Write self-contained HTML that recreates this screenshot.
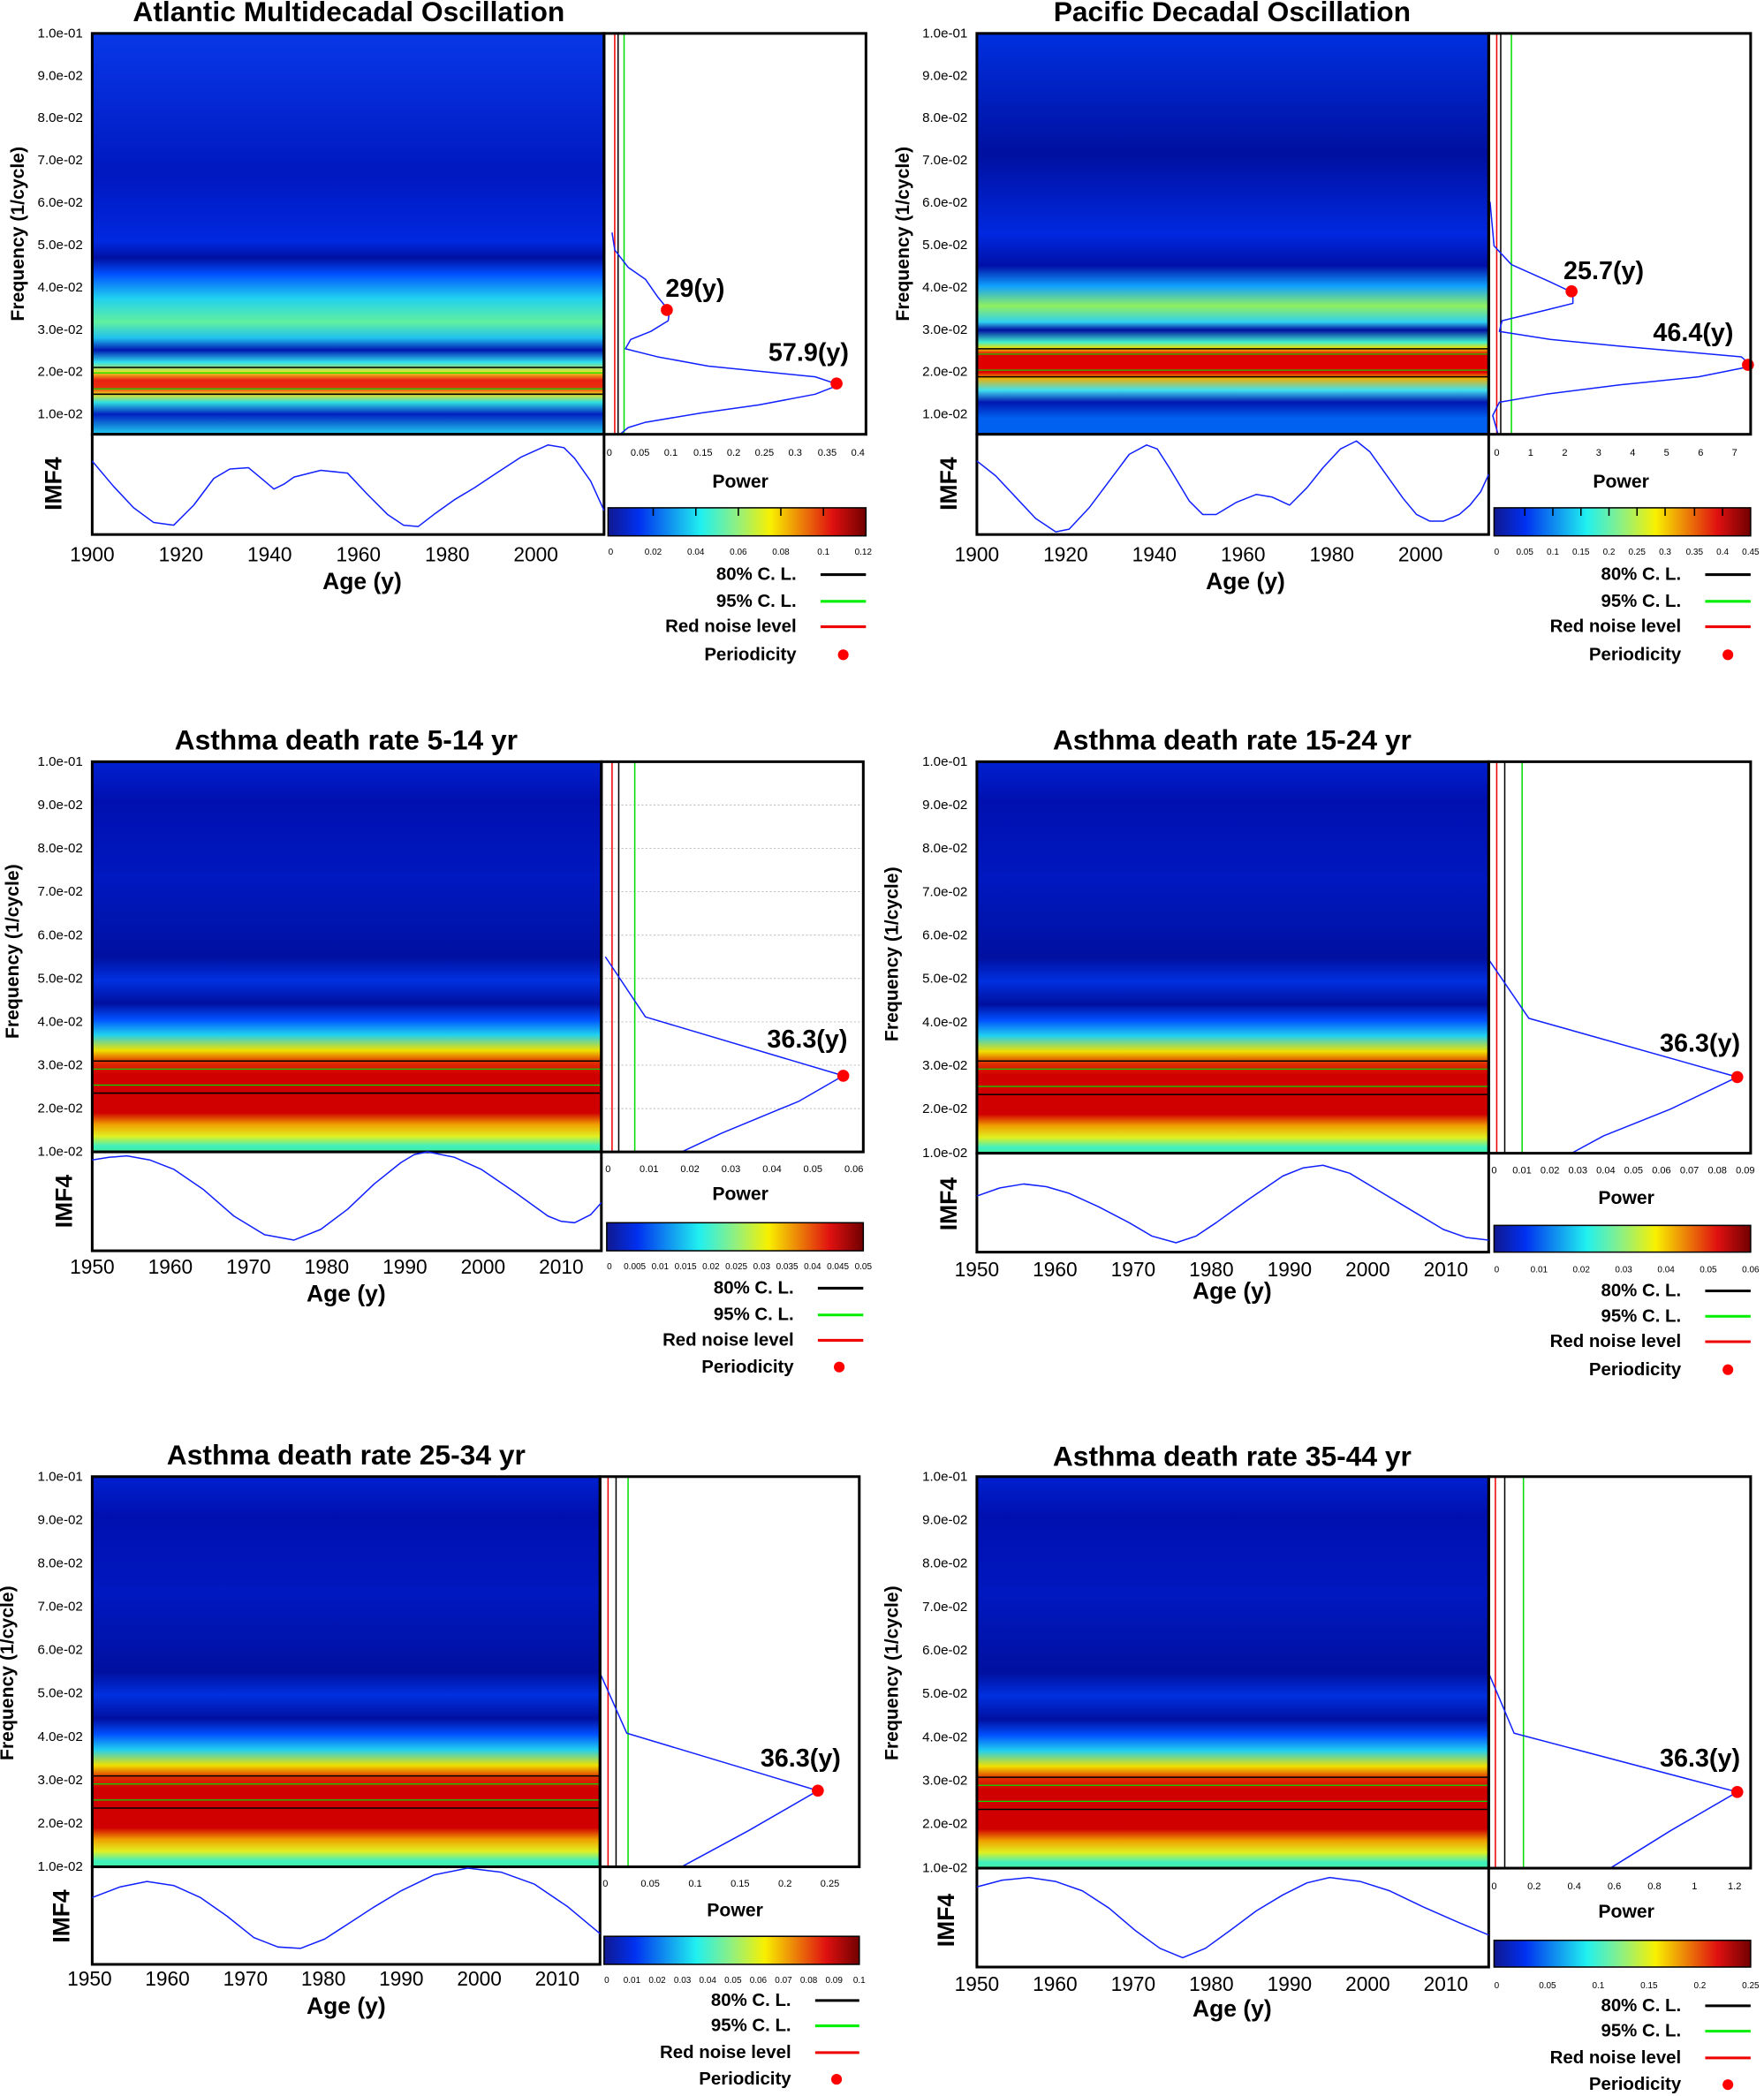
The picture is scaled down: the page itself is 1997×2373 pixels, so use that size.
<!DOCTYPE html>
<html><head><meta charset="utf-8"><style>html,body{margin:0;padding:0;background:#fff}svg{display:block}text{font-family:"Liberation Sans",Arial,sans-serif}
text[font-size="18"]{font-size:21px}
g[font-size="8"] text{font-size:10px}
text[font-size="11"]{font-size:14px}
g[font-size="11"] text{font-size:13.5px}
g[font-size="13"] text{font-size:15px}
text[font-size="15"]{font-size:17.5px}
text[font-size="16"]{font-size:19px}
g[font-size="6.5"] text{font-size:7.3px}
g[font-size="6"] text, g[font-size="5.8"] text{font-size:6.6px}
polyline{stroke-linejoin:round}
</style></head><body>
<svg width="1997" height="2373" viewBox="0 0 1320 1568.5" preserveAspectRatio="none" xmlns="http://www.w3.org/2000/svg">
<defs>
<linearGradient id="g1" x1="0" y1="0" x2="0" y2="1">
<stop offset="0" stop-color="#0838e8"/><stop offset="0.35" stop-color="#0018c0"/><stop offset="0.52" stop-color="#0028e0"/><stop offset="0.56" stop-color="#0010a0"/><stop offset="0.6" stop-color="#0050ff"/><stop offset="0.66" stop-color="#20d0f0"/><stop offset="0.72" stop-color="#60f0a0"/><stop offset="0.76" stop-color="#20c0f0"/><stop offset="0.79" stop-color="#0018b0"/><stop offset="0.82" stop-color="#30e0f0"/><stop offset="0.845" stop-color="#f0e020"/><stop offset="0.865" stop-color="#e82010"/><stop offset="0.885" stop-color="#e83010"/><stop offset="0.9" stop-color="#f0e020"/><stop offset="0.92" stop-color="#30e0e0"/><stop offset="0.95" stop-color="#0020c0"/><stop offset="1" stop-color="#20d0f0"/>
</linearGradient>
<linearGradient id="g2" x1="0" y1="0" x2="0" y2="1">
<stop offset="0" stop-color="#0030e0"/><stop offset="0.3" stop-color="#0010a0"/><stop offset="0.5" stop-color="#0028e0"/><stop offset="0.58" stop-color="#0010a8"/><stop offset="0.63" stop-color="#10a0ff"/><stop offset="0.68" stop-color="#90f060"/><stop offset="0.72" stop-color="#30d0f0"/><stop offset="0.74" stop-color="#0010a0"/><stop offset="0.77" stop-color="#40f0d0"/><stop offset="0.785" stop-color="#f0e000"/><stop offset="0.8" stop-color="#e00000"/><stop offset="0.845" stop-color="#e00000"/><stop offset="0.86" stop-color="#f0b000"/><stop offset="0.89" stop-color="#40e0f0"/><stop offset="0.92" stop-color="#0018b0"/><stop offset="0.96" stop-color="#0060f0"/><stop offset="1" stop-color="#0060f0"/>
</linearGradient>
<linearGradient id="g3" x1="0" y1="0" x2="0" y2="1">
<stop offset="0" stop-color="#0020d0"/><stop offset="0.1" stop-color="#0010b0"/><stop offset="0.3" stop-color="#0018c0"/><stop offset="0.5" stop-color="#0010a0"/><stop offset="0.56" stop-color="#0030e0"/><stop offset="0.62" stop-color="#0010a0"/><stop offset="0.66" stop-color="#0050ff"/><stop offset="0.7" stop-color="#20d0f0"/><stop offset="0.74" stop-color="#f0e000"/><stop offset="0.77" stop-color="#e03000"/><stop offset="0.8" stop-color="#d00000"/><stop offset="0.9" stop-color="#d00000"/><stop offset="0.93" stop-color="#f0a000"/><stop offset="0.96" stop-color="#e0f020"/><stop offset="0.985" stop-color="#40f0c0"/><stop offset="1" stop-color="#40f0a0"/>
</linearGradient>
<linearGradient id="jet" x1="0" y1="0" x2="1" y2="0">
<stop offset="0" stop-color="#101890"/><stop offset="0.12" stop-color="#0030f0"/><stop offset="0.36" stop-color="#20f0f0"/><stop offset="0.5" stop-color="#90f080"/><stop offset="0.63" stop-color="#f8f000"/><stop offset="0.87" stop-color="#e01010"/><stop offset="1" stop-color="#700000"/>
</linearGradient>
</defs>

<!-- ===== Panel 1 AMO ===== -->
<g>
<rect x="69" y="25" width="383" height="300" fill="url(#g1)"/>
<line x1="69" y1="275" x2="452" y2="275" stroke="#000" stroke-width="1"/><line x1="69" y1="295" x2="452" y2="295" stroke="#000" stroke-width="1"/>
<line x1="69" y1="279" x2="452" y2="279" stroke="#00e000" stroke-width="0.8"/><line x1="69" y1="291" x2="452" y2="291" stroke="#00e000" stroke-width="0.8"/>
<rect x="452" y="25" width="196" height="300" fill="#fff"/>
<line x1="460" y1="25" x2="460" y2="325" stroke="#e00" stroke-width="1"/><line x1="462.5" y1="25" x2="462.5" y2="325" stroke="#000" stroke-width="1"/><line x1="467" y1="25" x2="467" y2="325" stroke="#0d0" stroke-width="1"/>
<polyline fill="none" stroke="#1020ff" stroke-width="1" points="458,174 460,187 470,200 483,209 492,222 501,233 500,240 487,248 472,254 468,261 492,267 530,274 610,282 628,288 610,295 568,303 525,309 483,316 470,320 464,325"/>
<circle cx="499" cy="232" r="4.5" fill="#f00"/><circle cx="626" cy="287" r="4.5" fill="#f00"/>
<text x="498" y="222" font-size="16" font-weight="bold">29(y)</text><text x="575" y="270" font-size="16" font-weight="bold">57.9(y)</text>
<rect x="69" y="25" width="383" height="300" fill="none" stroke="#000" stroke-width="2"/>
<rect x="452" y="25" width="196" height="300" fill="none" stroke="#000" stroke-width="2"/>
<rect x="69" y="325" width="383" height="75" fill="#fff" stroke="#000" stroke-width="2"/>
<polyline fill="none" stroke="#1020ff" stroke-width="1" points="69,345 85,364 100,380 115,391 130,393 145,378 160,358 172,351 186,350 198,360 205,366 213,362 220,357 240,352 260,354 275,370 290,385 302,393 313,394 326,384 340,374 355,365 370,355 390,342 410,333 422,335 430,343 442,360 452,382"/>
<rect x="455" y="380" width="193" height="21" fill="url(#jet)" stroke="#000" stroke-width="1"/>
<g stroke="#000" stroke-width="1"><line x1="488.8" y1="380" x2="488.8" y2="386"/><line x1="520.7" y1="380" x2="520.7" y2="386"/><line x1="552.5" y1="380" x2="552.5" y2="386"/><line x1="584.3" y1="380" x2="584.3" y2="386"/><line x1="616.2" y1="380" x2="616.2" y2="386"/></g>
<text x="261" y="16" font-size="18" font-weight="bold" text-anchor="middle">Atlantic Multidecadal Oscillation</text>
<g font-size="8" text-anchor="end"><text x="62" y="28">1.0e-01</text><text x="62" y="59.7">9.0e-02</text><text x="62" y="91.3">8.0e-02</text><text x="62" y="123">7.0e-02</text><text x="62" y="154.7">6.0e-02</text><text x="62" y="186.3">5.0e-02</text><text x="62" y="218">4.0e-02</text><text x="62" y="249.7">3.0e-02</text><text x="62" y="281.3">2.0e-02</text><text x="62" y="313">1.0e-02</text></g>
<text transform="translate(18,175) rotate(-90)" font-size="11" font-weight="bold" text-anchor="middle">Frequency (1/cycle)</text>
<text transform="translate(46,362) rotate(-90)" font-size="15" font-weight="bold" text-anchor="middle">IMF4</text>
<g font-size="13" text-anchor="middle"><text x="69" y="420">1900</text><text x="135.4" y="420">1920</text><text x="201.8" y="420">1940</text><text x="268.2" y="420">1960</text><text x="334.6" y="420">1980</text><text x="401" y="420">2000</text></g>
<text x="271" y="441" font-size="15" font-weight="bold" text-anchor="middle">Age (y)</text>
<g font-size="6.5" text-anchor="middle"><text x="456" y="341">0</text><text x="479" y="341">0.05</text><text x="502" y="341">0.1</text><text x="526" y="341">0.15</text><text x="549" y="341">0.2</text><text x="572" y="341">0.25</text><text x="595" y="341">0.3</text><text x="619" y="341">0.35</text><text x="642" y="341">0.4</text></g>
<text x="554" y="365" font-size="11" font-weight="bold" text-anchor="middle">Power</text>
<g font-size="6" text-anchor="middle"><text x="457" y="415">0</text><text x="488.8" y="415">0.02</text><text x="520.7" y="415">0.04</text><text x="552.5" y="415">0.06</text><text x="584.3" y="415">0.08</text><text x="616.2" y="415">0.1</text><text x="646" y="415">0.12</text></g>
<g font-size="11" font-weight="bold" text-anchor="end"><text x="596" y="434">80% C. L.</text><text x="596" y="454">95% C. L.</text><text x="596" y="473">Red noise level</text><text x="596" y="494">Periodicity</text></g>
<line x1="614" y1="430" x2="648" y2="430" stroke="#000" stroke-width="2"/><line x1="614" y1="450" x2="648" y2="450" stroke="#0e0" stroke-width="2"/><line x1="614" y1="469" x2="648" y2="469" stroke="#e00" stroke-width="2"/><circle cx="631" cy="490" r="4" fill="#f00"/>
</g>

<!-- ===== Panel 2 PDO ===== -->
<g>
<rect x="731" y="25" width="383" height="300" fill="url(#g2)"/>
<line x1="731" y1="261" x2="1114" y2="261" stroke="#000" stroke-width="1"/><line x1="731" y1="282" x2="1114" y2="282" stroke="#000" stroke-width="1"/>
<line x1="731" y1="265" x2="1114" y2="265" stroke="#00e000" stroke-width="0.8"/><line x1="731" y1="277" x2="1114" y2="277" stroke="#00e000" stroke-width="0.8"/>
<rect x="1114" y="25" width="196" height="300" fill="#fff"/>
<line x1="1120" y1="25" x2="1120" y2="325" stroke="#e00" stroke-width="1"/><line x1="1123" y1="25" x2="1123" y2="325" stroke="#000" stroke-width="1"/><line x1="1131" y1="25" x2="1131" y2="325" stroke="#0d0" stroke-width="1"/>
<polyline fill="none" stroke="#1020ff" stroke-width="1" points="1115,151 1118,184 1131,198 1160,211 1177,219 1177,227 1157,232 1124,240 1122,248 1160,254 1212,259 1303,267 1311,274 1271,282 1212,288 1157,295 1122,301 1117,311 1121,325"/>
<circle cx="1176" cy="218" r="4.5" fill="#f00"/><circle cx="1308" cy="273" r="4.5" fill="#f00"/>
<text x="1170" y="209" font-size="16" font-weight="bold">25.7(y)</text><text x="1237" y="255" font-size="16" font-weight="bold">46.4(y)</text>
<rect x="731" y="25" width="383" height="300" fill="none" stroke="#000" stroke-width="2"/>
<rect x="1114" y="25" width="196" height="300" fill="none" stroke="#000" stroke-width="2"/>
<rect x="731" y="325" width="383" height="75" fill="#fff" stroke="#000" stroke-width="2"/>
<polyline fill="none" stroke="#1020ff" stroke-width="1" points="731,345 745,356 760,372 775,388 790,398 800,396 815,380 830,360 845,340 858,333 866,336 875,350 890,375 900,385 910,385 925,376 940,370 952,372 965,378 978,365 990,350 1003,336 1015,330 1025,338 1035,352 1050,373 1060,385 1070,390 1080,390 1092,385 1100,378 1108,368 1114,355"/>
<rect x="1118" y="380" width="192" height="21" fill="url(#jet)" stroke="#000" stroke-width="1"/>
<g stroke="#000" stroke-width="1"><line x1="1141" y1="380" x2="1141" y2="386"/><line x1="1162" y1="380" x2="1162" y2="386"/><line x1="1183" y1="380" x2="1183" y2="386"/><line x1="1204" y1="380" x2="1204" y2="386"/><line x1="1225" y1="380" x2="1225" y2="386"/><line x1="1246" y1="380" x2="1246" y2="386"/><line x1="1268" y1="380" x2="1268" y2="386"/><line x1="1289" y1="380" x2="1289" y2="386"/></g>
<text x="922" y="16" font-size="18" font-weight="bold" text-anchor="middle">Pacific Decadal Oscillation</text>
<g font-size="8" text-anchor="end"><text x="724" y="28">1.0e-01</text><text x="724" y="59.7">9.0e-02</text><text x="724" y="91.3">8.0e-02</text><text x="724" y="123">7.0e-02</text><text x="724" y="154.7">6.0e-02</text><text x="724" y="186.3">5.0e-02</text><text x="724" y="218">4.0e-02</text><text x="724" y="249.7">3.0e-02</text><text x="724" y="281.3">2.0e-02</text><text x="724" y="313">1.0e-02</text></g>
<text transform="translate(680,175) rotate(-90)" font-size="11" font-weight="bold" text-anchor="middle">Frequency (1/cycle)</text>
<text transform="translate(716,362) rotate(-90)" font-size="15" font-weight="bold" text-anchor="middle">IMF4</text>
<g font-size="13" text-anchor="middle"><text x="731" y="420">1900</text><text x="797.4" y="420">1920</text><text x="863.8" y="420">1940</text><text x="930.2" y="420">1960</text><text x="996.6" y="420">1980</text><text x="1063" y="420">2000</text></g>
<text x="932" y="441" font-size="15" font-weight="bold" text-anchor="middle">Age (y)</text>
<g font-size="6.5" text-anchor="middle"><text x="1120" y="341">0</text><text x="1145.4" y="341">1</text><text x="1170.9" y="341">2</text><text x="1196.3" y="341">3</text><text x="1221.7" y="341">4</text><text x="1247.1" y="341">5</text><text x="1272.6" y="341">6</text><text x="1298" y="341">7</text></g>
<text x="1213" y="365" font-size="11" font-weight="bold" text-anchor="middle">Power</text>
<g font-size="6" text-anchor="middle"><text x="1120" y="415">0</text><text x="1141" y="415">0.05</text><text x="1162" y="415">0.1</text><text x="1183" y="415">0.15</text><text x="1204" y="415">0.2</text><text x="1225" y="415">0.25</text><text x="1246" y="415">0.3</text><text x="1268" y="415">0.35</text><text x="1289" y="415">0.4</text><text x="1310" y="415">0.45</text></g>
<g font-size="11" font-weight="bold" text-anchor="end"><text x="1258" y="434">80% C. L.</text><text x="1258" y="454">95% C. L.</text><text x="1258" y="473">Red noise level</text><text x="1258" y="494">Periodicity</text></g>
<line x1="1276" y1="430" x2="1310" y2="430" stroke="#000" stroke-width="2"/><line x1="1276" y1="450" x2="1310" y2="450" stroke="#0e0" stroke-width="2"/><line x1="1276" y1="469" x2="1310" y2="469" stroke="#e00" stroke-width="2"/><circle cx="1293" cy="490" r="4" fill="#f00"/>
</g>

<!-- ===== Panel 3 Asthma 5-14 ===== -->
<g>
<rect x="69" y="570" width="381" height="292" fill="url(#g3)"/>
<line x1="69" y1="794" x2="450" y2="794" stroke="#000" stroke-width="1"/><line x1="69" y1="818" x2="450" y2="818" stroke="#000" stroke-width="1"/>
<line x1="69" y1="800" x2="450" y2="800" stroke="#00e000" stroke-width="0.8"/><line x1="69" y1="812" x2="450" y2="812" stroke="#00e000" stroke-width="0.8"/>
<rect x="450" y="570" width="196" height="292" fill="#fff"/>
<g stroke="#bbb" stroke-width="0.6" stroke-dasharray="1.5,1.5"><line x1="450" y1="602.4" x2="646" y2="602.4"/><line x1="450" y1="634.9" x2="646" y2="634.9"/><line x1="450" y1="667.3" x2="646" y2="667.3"/><line x1="450" y1="699.8" x2="646" y2="699.8"/><line x1="450" y1="732.2" x2="646" y2="732.2"/><line x1="450" y1="764.7" x2="646" y2="764.7"/><line x1="450" y1="797.1" x2="646" y2="797.1"/><line x1="450" y1="829.6" x2="646" y2="829.6"/></g>
<line x1="458" y1="570" x2="458" y2="862" stroke="#e00" stroke-width="1"/><line x1="463" y1="570" x2="463" y2="862" stroke="#000" stroke-width="1"/><line x1="475" y1="570" x2="475" y2="862" stroke="#0d0" stroke-width="1"/>
<polyline fill="none" stroke="#1020ff" stroke-width="1" points="453,716 483,761 631,805 598,824 540,848 510,862"/>
<circle cx="631" cy="805" r="4.5" fill="#f00"/>
<text x="574" y="784" font-size="16" font-weight="bold">36.3(y)</text>
<rect x="69" y="570" width="381" height="292" fill="none" stroke="#000" stroke-width="2"/>
<rect x="450" y="570" width="196" height="292" fill="none" stroke="#000" stroke-width="2"/>
<rect x="69" y="862" width="381" height="74" fill="#fff" stroke="#000" stroke-width="2"/>
<polyline fill="none" stroke="#1020ff" stroke-width="1" points="69,868 82,866 95,865 112,868 130,875 152,890 175,910 198,924 220,928 240,920 260,905 280,886 300,870 310,864 320,862 340,866 360,875 385,892 410,910 420,914 430,915 442,909 450,900"/>
<rect x="454" y="915" width="192" height="21" fill="url(#jet)" stroke="#000" stroke-width="1"/>
<text x="259" y="561" font-size="18" font-weight="bold" text-anchor="middle">Asthma death rate 5-14 yr</text>
<g font-size="8" text-anchor="end"><text x="62" y="573">1.0e-01</text><text x="62" y="605.4">9.0e-02</text><text x="62" y="637.9">8.0e-02</text><text x="62" y="670.3">7.0e-02</text><text x="62" y="702.8">6.0e-02</text><text x="62" y="735.2">5.0e-02</text><text x="62" y="767.7">4.0e-02</text><text x="62" y="800.1">3.0e-02</text><text x="62" y="832.6">2.0e-02</text><text x="62" y="865">1.0e-02</text></g>
<text transform="translate(14,712) rotate(-90)" font-size="11" font-weight="bold" text-anchor="middle">Frequency (1/cycle)</text>
<text transform="translate(54,899) rotate(-90)" font-size="15" font-weight="bold" text-anchor="middle">IMF4</text>
<g font-size="13" text-anchor="middle"><text x="69" y="953">1950</text><text x="127.5" y="953">1960</text><text x="186" y="953">1970</text><text x="244.5" y="953">1980</text><text x="303" y="953">1990</text><text x="361.5" y="953">2000</text><text x="420" y="953">2010</text></g>
<text x="259" y="974" font-size="15" font-weight="bold" text-anchor="middle">Age (y)</text>
<g font-size="6.5" text-anchor="middle"><text x="455" y="877">0</text><text x="485.7" y="877">0.01</text><text x="516.3" y="877">0.02</text><text x="547" y="877">0.03</text><text x="577.7" y="877">0.04</text><text x="608.3" y="877">0.05</text><text x="639" y="877">0.06</text></g>
<text x="554" y="898" font-size="11" font-weight="bold" text-anchor="middle">Power</text>
<g font-size="5.8" text-anchor="middle"><text x="456" y="950">0</text><text x="475" y="950">0.005</text><text x="494" y="950">0.01</text><text x="513" y="950">0.015</text><text x="532" y="950">0.02</text><text x="551" y="950">0.025</text><text x="570" y="950">0.03</text><text x="589" y="950">0.035</text><text x="608" y="950">0.04</text><text x="627" y="950">0.045</text><text x="646" y="950">0.05</text></g>
<g font-size="11" font-weight="bold" text-anchor="end"><text x="594" y="968">80% C. L.</text><text x="594" y="988">95% C. L.</text><text x="594" y="1007">Red noise level</text><text x="594" y="1027">Periodicity</text></g>
<line x1="612" y1="964" x2="646" y2="964" stroke="#000" stroke-width="2"/><line x1="612" y1="984" x2="646" y2="984" stroke="#0e0" stroke-width="2"/><line x1="612" y1="1003" x2="646" y2="1003" stroke="#e00" stroke-width="2"/><circle cx="628" cy="1023" r="4" fill="#f00"/>
</g>

<!-- ===== Panel 4 Asthma 15-24 ===== -->
<g>
<rect x="731" y="570" width="383" height="293" fill="url(#g3)"/>
<line x1="731" y1="794" x2="1114" y2="794" stroke="#000" stroke-width="1"/><line x1="731" y1="819" x2="1114" y2="819" stroke="#000" stroke-width="1"/>
<line x1="731" y1="800" x2="1114" y2="800" stroke="#00e000" stroke-width="0.8"/><line x1="731" y1="813" x2="1114" y2="813" stroke="#00e000" stroke-width="0.8"/>
<rect x="1114" y="570" width="196" height="293" fill="#fff"/>
<line x1="1120" y1="570" x2="1120" y2="863" stroke="#e00" stroke-width="1"/><line x1="1126" y1="570" x2="1126" y2="863" stroke="#000" stroke-width="1"/><line x1="1139" y1="570" x2="1139" y2="863" stroke="#0d0" stroke-width="1"/>
<polyline fill="none" stroke="#1020ff" stroke-width="1" points="1114,718 1144,762 1300,806 1250,830 1200,850 1176,863"/>
<circle cx="1300" cy="806" r="4.5" fill="#f00"/>
<text x="1242" y="787" font-size="16" font-weight="bold">36.3(y)</text>
<rect x="731" y="570" width="383" height="293" fill="none" stroke="#000" stroke-width="2"/>
<rect x="1114" y="570" width="196" height="293" fill="none" stroke="#000" stroke-width="2"/>
<rect x="731" y="863" width="383" height="74" fill="#fff" stroke="#000" stroke-width="2"/>
<polyline fill="none" stroke="#1020ff" stroke-width="1" points="731,895 748,889 766,886 783,888 800,893 822,903 845,915 862,925 880,930 895,925 910,915 935,897 960,880 975,874 990,872 1010,878 1030,890 1055,905 1080,920 1097,926 1114,928"/>
<rect x="1118" y="917" width="192" height="20" fill="url(#jet)" stroke="#000" stroke-width="1"/>
<text x="922" y="561" font-size="18" font-weight="bold" text-anchor="middle">Asthma death rate 15-24 yr</text>
<g font-size="8" text-anchor="end"><text x="724" y="573">1.0e-01</text><text x="724" y="605.5">9.0e-02</text><text x="724" y="638">8.0e-02</text><text x="724" y="670.5">7.0e-02</text><text x="724" y="703">6.0e-02</text><text x="724" y="735.5">5.0e-02</text><text x="724" y="768">4.0e-02</text><text x="724" y="800.5">3.0e-02</text><text x="724" y="833">2.0e-02</text><text x="724" y="866">1.0e-02</text></g>
<text transform="translate(672,714) rotate(-90)" font-size="11" font-weight="bold" text-anchor="middle">Frequency (1/cycle)</text>
<text transform="translate(716,901) rotate(-90)" font-size="15" font-weight="bold" text-anchor="middle">IMF4</text>
<g font-size="13" text-anchor="middle"><text x="731" y="955">1950</text><text x="789.5" y="955">1960</text><text x="848" y="955">1970</text><text x="906.5" y="955">1980</text><text x="965" y="955">1990</text><text x="1023.5" y="955">2000</text><text x="1082" y="955">2010</text></g>
<text x="922" y="972" font-size="15" font-weight="bold" text-anchor="middle">Age (y)</text>
<g font-size="6.5" text-anchor="middle"><text x="1118" y="878">0</text><text x="1138.9" y="878">0.01</text><text x="1159.8" y="878">0.02</text><text x="1180.7" y="878">0.03</text><text x="1201.6" y="878">0.04</text><text x="1222.4" y="878">0.05</text><text x="1243.3" y="878">0.06</text><text x="1264.2" y="878">0.07</text><text x="1285.1" y="878">0.08</text><text x="1306" y="878">0.09</text></g>
<text x="1217" y="901" font-size="11" font-weight="bold" text-anchor="middle">Power</text>
<g font-size="6" text-anchor="middle"><text x="1120" y="952">0</text><text x="1151.7" y="952">0.01</text><text x="1183.3" y="952">0.02</text><text x="1215" y="952">0.03</text><text x="1246.7" y="952">0.04</text><text x="1278.3" y="952">0.05</text><text x="1310" y="952">0.06</text></g>
<g font-size="11" font-weight="bold" text-anchor="end"><text x="1258" y="970">80% C. L.</text><text x="1258" y="989">95% C. L.</text><text x="1258" y="1008">Red noise level</text><text x="1258" y="1029">Periodicity</text></g>
<line x1="1276" y1="966" x2="1310" y2="966" stroke="#000" stroke-width="2"/><line x1="1276" y1="985" x2="1310" y2="985" stroke="#0e0" stroke-width="2"/><line x1="1276" y1="1004" x2="1310" y2="1004" stroke="#e00" stroke-width="2"/><circle cx="1293" cy="1025" r="4" fill="#f00"/>
</g>

<!-- ===== Panel 5 Asthma 25-34 ===== -->
<g>
<rect x="69" y="1105" width="380" height="292" fill="url(#g3)"/>
<line x1="69" y1="1329" x2="449" y2="1329" stroke="#000" stroke-width="1"/><line x1="69" y1="1353" x2="449" y2="1353" stroke="#000" stroke-width="1"/>
<line x1="69" y1="1335" x2="449" y2="1335" stroke="#00e000" stroke-width="0.8"/><line x1="69" y1="1347" x2="449" y2="1347" stroke="#00e000" stroke-width="0.8"/>
<rect x="449" y="1105" width="194" height="292" fill="#fff"/>
<line x1="455" y1="1105" x2="455" y2="1397" stroke="#e00" stroke-width="1"/><line x1="461" y1="1105" x2="461" y2="1397" stroke="#000" stroke-width="1"/><line x1="470" y1="1105" x2="470" y2="1397" stroke="#0d0" stroke-width="1"/>
<polyline fill="none" stroke="#1020ff" stroke-width="1" points="449,1252 469,1297 612,1340 560,1370 510,1397"/>
<circle cx="612" cy="1340" r="4.5" fill="#f00"/>
<text x="569" y="1322" font-size="16" font-weight="bold">36.3(y)</text>
<rect x="69" y="1105" width="380" height="292" fill="none" stroke="#000" stroke-width="2"/>
<rect x="449" y="1105" width="194" height="292" fill="none" stroke="#000" stroke-width="2"/>
<rect x="69" y="1397" width="380" height="73" fill="#fff" stroke="#000" stroke-width="2"/>
<polyline fill="none" stroke="#1020ff" stroke-width="1" points="69,1420 90,1412 110,1408 130,1411 150,1420 170,1434 190,1450 208,1457 225,1458 243,1451 260,1440 280,1427 300,1415 325,1403 350,1398 375,1401 400,1410 425,1427 449,1447"/>
<rect x="452" y="1449" width="191" height="21" fill="url(#jet)" stroke="#000" stroke-width="1"/>
<text x="259" y="1096" font-size="18" font-weight="bold" text-anchor="middle">Asthma death rate 25-34 yr</text>
<g font-size="8" text-anchor="end"><text x="62" y="1108">1.0e-01</text><text x="62" y="1140.4">9.0e-02</text><text x="62" y="1172.9">8.0e-02</text><text x="62" y="1205.3">7.0e-02</text><text x="62" y="1237.8">6.0e-02</text><text x="62" y="1270.2">5.0e-02</text><text x="62" y="1302.7">4.0e-02</text><text x="62" y="1335.1">3.0e-02</text><text x="62" y="1367.6">2.0e-02</text><text x="62" y="1400">1.0e-02</text></g>
<text transform="translate(10,1252) rotate(-90)" font-size="11" font-weight="bold" text-anchor="middle">Frequency (1/cycle)</text>
<text transform="translate(52,1434) rotate(-90)" font-size="15" font-weight="bold" text-anchor="middle">IMF4</text>
<g font-size="13" text-anchor="middle"><text x="67" y="1486">1950</text><text x="125.3" y="1486">1960</text><text x="183.7" y="1486">1970</text><text x="242" y="1486">1980</text><text x="300.3" y="1486">1990</text><text x="358.7" y="1486">2000</text><text x="417" y="1486">2010</text></g>
<text x="259" y="1507" font-size="15" font-weight="bold" text-anchor="middle">Age (y)</text>
<g font-size="6.5" text-anchor="middle"><text x="453" y="1412">0</text><text x="486.6" y="1412">0.05</text><text x="520.2" y="1412">0.1</text><text x="553.8" y="1412">0.15</text><text x="587.4" y="1412">0.2</text><text x="621" y="1412">0.25</text></g>
<text x="550" y="1434" font-size="11" font-weight="bold" text-anchor="middle">Power</text>
<g font-size="5.8" text-anchor="middle"><text x="454" y="1484">0</text><text x="472.9" y="1484">0.01</text><text x="491.8" y="1484">0.02</text><text x="510.7" y="1484">0.03</text><text x="529.6" y="1484">0.04</text><text x="548.5" y="1484">0.05</text><text x="567.4" y="1484">0.06</text><text x="586.3" y="1484">0.07</text><text x="605.2" y="1484">0.08</text><text x="624.1" y="1484">0.09</text><text x="643" y="1484">0.1</text></g>
<g font-size="11" font-weight="bold" text-anchor="end"><text x="592" y="1501">80% C. L.</text><text x="592" y="1520">95% C. L.</text><text x="592" y="1540">Red noise level</text><text x="592" y="1560">Periodicity</text></g>
<line x1="610" y1="1497" x2="643" y2="1497" stroke="#000" stroke-width="2"/><line x1="610" y1="1516" x2="643" y2="1516" stroke="#0e0" stroke-width="2"/><line x1="610" y1="1536" x2="643" y2="1536" stroke="#e00" stroke-width="2"/><circle cx="626" cy="1556" r="4" fill="#f00"/>
</g>

<!-- ===== Panel 6 Asthma 35-44 ===== -->
<g>
<rect x="731" y="1105" width="383" height="293" fill="url(#g3)"/>
<line x1="731" y1="1330" x2="1114" y2="1330" stroke="#000" stroke-width="1"/><line x1="731" y1="1354" x2="1114" y2="1354" stroke="#000" stroke-width="1"/>
<line x1="731" y1="1336" x2="1114" y2="1336" stroke="#00e000" stroke-width="0.8"/><line x1="731" y1="1348" x2="1114" y2="1348" stroke="#00e000" stroke-width="0.8"/>
<rect x="1114" y="1105" width="196" height="293" fill="#fff"/>
<line x1="1119" y1="1105" x2="1119" y2="1398" stroke="#e00" stroke-width="1"/><line x1="1126" y1="1105" x2="1126" y2="1398" stroke="#000" stroke-width="1"/><line x1="1140" y1="1105" x2="1140" y2="1398" stroke="#0d0" stroke-width="1"/>
<polyline fill="none" stroke="#1020ff" stroke-width="1" points="1114,1252 1133,1297 1300,1341 1250,1370 1205,1398"/>
<circle cx="1300" cy="1341" r="4.5" fill="#f00"/>
<text x="1242" y="1322" font-size="16" font-weight="bold">36.3(y)</text>
<rect x="731" y="1105" width="383" height="293" fill="none" stroke="#000" stroke-width="2"/>
<rect x="1114" y="1105" width="196" height="293" fill="none" stroke="#000" stroke-width="2"/>
<rect x="731" y="1398" width="383" height="74" fill="#fff" stroke="#000" stroke-width="2"/>
<polyline fill="none" stroke="#1020ff" stroke-width="1" points="731,1412 750,1407 770,1405 790,1408 810,1415 830,1428 850,1445 868,1458 885,1465 902,1458 920,1445 940,1430 960,1418 978,1409 995,1405 1018,1408 1040,1415 1065,1427 1090,1438 1114,1448"/>
<rect x="1118" y="1452" width="192" height="20" fill="url(#jet)" stroke="#000" stroke-width="1"/>
<text x="922" y="1097" font-size="18" font-weight="bold" text-anchor="middle">Asthma death rate 35-44 yr</text>
<g font-size="8" text-anchor="end"><text x="724" y="1108">1.0e-01</text><text x="724" y="1140.5">9.0e-02</text><text x="724" y="1173">8.0e-02</text><text x="724" y="1205.5">7.0e-02</text><text x="724" y="1238">6.0e-02</text><text x="724" y="1270.5">5.0e-02</text><text x="724" y="1303">4.0e-02</text><text x="724" y="1335.5">3.0e-02</text><text x="724" y="1368">2.0e-02</text><text x="724" y="1401">1.0e-02</text></g>
<text transform="translate(672,1252) rotate(-90)" font-size="11" font-weight="bold" text-anchor="middle">Frequency (1/cycle)</text>
<text transform="translate(714,1437) rotate(-90)" font-size="15" font-weight="bold" text-anchor="middle">IMF4</text>
<g font-size="13" text-anchor="middle"><text x="731" y="1490">1950</text><text x="789.5" y="1490">1960</text><text x="848" y="1490">1970</text><text x="906.5" y="1490">1980</text><text x="965" y="1490">1990</text><text x="1023.5" y="1490">2000</text><text x="1082" y="1490">2010</text></g>
<text x="922" y="1509" font-size="15" font-weight="bold" text-anchor="middle">Age (y)</text>
<g font-size="6.5" text-anchor="middle"><text x="1118" y="1414">0</text><text x="1148" y="1414">0.2</text><text x="1178" y="1414">0.4</text><text x="1208" y="1414">0.6</text><text x="1238" y="1414">0.8</text><text x="1268" y="1414">1</text><text x="1298" y="1414">1.2</text></g>
<text x="1217" y="1435" font-size="11" font-weight="bold" text-anchor="middle">Power</text>
<g font-size="6" text-anchor="middle"><text x="1120" y="1488">0</text><text x="1158" y="1488">0.05</text><text x="1196" y="1488">0.1</text><text x="1234" y="1488">0.15</text><text x="1272" y="1488">0.2</text><text x="1310" y="1488">0.25</text></g>
<g font-size="11" font-weight="bold" text-anchor="end"><text x="1258" y="1505">80% C. L.</text><text x="1258" y="1524">95% C. L.</text><text x="1258" y="1544">Red noise level</text><text x="1258" y="1564">Periodicity</text></g>
<line x1="1276" y1="1501" x2="1310" y2="1501" stroke="#000" stroke-width="2"/><line x1="1276" y1="1520" x2="1310" y2="1520" stroke="#0e0" stroke-width="2"/><line x1="1276" y1="1540" x2="1310" y2="1540" stroke="#e00" stroke-width="2"/><circle cx="1293" cy="1560" r="4" fill="#f00"/>
</g>
</svg>
</body></html>
